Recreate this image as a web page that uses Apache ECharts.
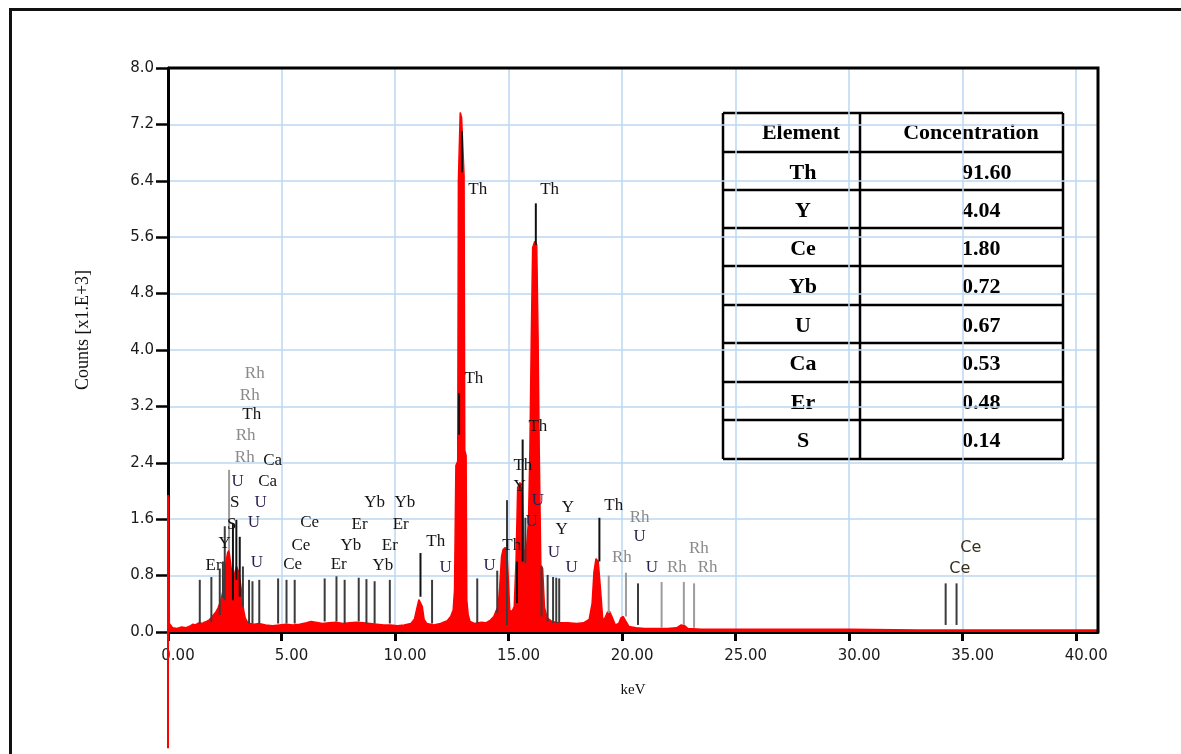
<!DOCTYPE html>
<html><head><meta charset="utf-8">
<script src="https://cdn.jsdelivr.net/npm/echarts@6/dist/echarts.min.js"></script>
<style>html,body{margin:0;padding:0;background:#fff}#c{width:1181px;height:754px}</style>
</head><body><div id="c"></div>
<script>
// ---------- data ----------
const xTickValues = [0, 5, 10, 15, 20, 25, 30, 35, 40];

// spectrum [keV, counts x1000]
const spectrum = [
 [0.00,1.94],[0.03,1.90],[0.06,0.12],[0.2,0.06],[0.4,0.05],[0.6,0.07],[0.8,0.06],[1.0,0.09],
 [1.1,0.11],[1.2,0.10],[1.3,0.12],[1.4,0.13],[1.5,0.12],[1.6,0.14],[1.7,0.15],[1.8,0.17],
 [1.9,0.20],[2.0,0.24],[2.1,0.28],[2.2,0.34],[2.3,0.42],[2.4,0.55],[2.5,0.83],[2.56,1.00],
 [2.62,1.12],[2.68,1.16],[2.74,1.02],[2.80,0.86],[2.88,0.76],[2.95,0.85],[3.02,0.93],[3.10,0.86],
 [3.18,0.72],[3.25,0.55],[3.32,0.33],[3.40,0.20],[3.50,0.14],[3.6,0.12],[3.8,0.11],[4.0,0.12],
 [4.3,0.10],[4.6,0.09],[4.9,0.10],[5.2,0.11],[5.5,0.10],[5.8,0.11],[6.1,0.13],[6.3,0.15],
 [6.5,0.14],[6.8,0.12],[7.1,0.13],[7.4,0.14],[7.7,0.12],[8.0,0.13],[8.3,0.14],[8.6,0.13],
 [8.9,0.12],[9.2,0.11],[9.5,0.10],[9.8,0.10],[10.1,0.09],[10.4,0.10],[10.7,0.12],[10.85,0.18],
 [10.95,0.32],[11.05,0.46],[11.12,0.48],[11.2,0.36],[11.28,0.18],[11.4,0.12],[11.7,0.10],[12.0,0.12],
 [12.3,0.16],[12.45,0.22],[12.56,0.31],[12.62,0.60],[12.68,2.36],[12.76,2.42],[12.79,6.40],[12.87,7.37],
 [12.93,7.30],[13.04,6.47],[13.07,2.58],[13.13,2.50],[13.16,0.45],[13.22,0.25],[13.3,0.15],[13.5,0.12],
 [13.8,0.14],[14.0,0.13],[14.2,0.17],[14.35,0.22],[14.45,0.30],[14.54,0.36],[14.61,0.64],[14.69,1.07],
 [14.76,1.17],[14.85,1.20],[14.93,1.12],[14.99,0.74],[15.05,0.31],[15.15,0.29],[15.25,0.36],[15.33,1.02],
 [15.40,2.05],[15.50,2.12],[15.60,2.00],[15.67,1.20],[15.75,1.00],[15.82,0.98],[15.88,1.60],[15.94,2.60],
 [16.00,4.17],[16.06,5.45],[16.15,5.54],[16.24,5.49],[16.30,4.17],[16.35,2.60],[16.42,0.95],[16.50,0.90],
 [16.58,0.35],[16.70,0.20],[16.9,0.15],[17.2,0.13],[17.6,0.13],[18.0,0.12],[18.3,0.13],[18.55,0.18],
 [18.68,0.41],[18.76,0.85],[18.85,1.04],[18.95,1.00],[19.05,0.60],[19.15,0.17],[19.25,0.20],[19.35,0.28],
 [19.45,0.29],[19.55,0.22],[19.7,0.10],[19.85,0.12],[19.95,0.20],[20.05,0.22],[20.15,0.16],[20.3,0.08],
 [20.6,0.06],[21.0,0.05],[21.5,0.05],[22.0,0.05],[22.4,0.06],[22.6,0.10],[22.75,0.09],[22.9,0.05],
 [23.5,0.04],[25,0.04],[27,0.04],[30,0.04],[33,0.03],[36,0.03],[39,0.03],[40.96,0.03]
];
const zeroSpike = [[0,-1.65],[0,1.94]];

// marker lines [element, keV, bottom, top]
const markerLines = [
 ['Er',1.40,0.12,0.74],['Y',1.91,0.14,0.78],['S',2.28,0.24,0.90],['S',2.42,0.48,1.00],
 ['Y',2.50,0.45,1.50],['Rh',2.69,1.16,2.30],['Th',2.86,0.45,1.54],['Th',3.01,0.74,1.59],
 ['Th',3.16,0.50,1.35],['U',3.30,0.36,0.93],['U',3.57,0.12,0.74],['Ca',3.72,0.12,0.72],
 ['Ca',4.02,0.12,0.74],['Ce',4.85,0.12,0.76],['Ce',5.22,0.12,0.74],['Ce',5.58,0.12,0.74],
 ['Er',6.90,0.15,0.76],['Yb',7.42,0.15,0.79],['Er',7.78,0.12,0.74],['Yb',8.40,0.15,0.77],
 ['Er',8.74,0.12,0.75],['Yb',9.10,0.12,0.72],['Yb',9.77,0.12,0.74],['Th',11.12,0.50,1.12],
 ['U',11.63,0.12,0.74],['Th',12.82,2.80,3.39],['Th',12.95,6.52,7.10],['U',13.62,0.12,0.76],
 ['U',14.50,0.27,0.87],['Y',14.93,0.10,1.87],['Th',15.37,0.41,1.00],['Th',15.62,1.00,2.73],
 ['U',15.74,0.98,1.62],['Th',16.20,5.49,6.08],['U',16.45,0.22,0.93],['Y',16.72,0.15,0.81],
 ['U',16.96,0.13,0.78],['U',17.10,0.13,0.77],['U',17.23,0.13,0.76],['Th',19.00,1.00,1.62],
 ['Rh',19.41,0.27,0.80],['Rh',20.17,0.22,0.84],['U',20.70,0.10,0.69],['Rh',21.74,0.06,0.71],
 ['Rh',22.72,0.10,0.71],['Rh',23.17,0.06,0.69],['Ce',34.25,0.10,0.69],['Ce',34.73,0.10,0.69]
];

// marker labels [text, keV, counts]
const markerLabels = [
 ['Rh',3.82,3.67],['Rh',3.60,3.36],['Th',3.69,3.08],['Rh',3.42,2.79],['Rh',3.38,2.48],
 ['Ca',4.61,2.43],['U',3.07,2.13],['Ca',4.39,2.14],['S',2.94,1.84],['U',4.08,1.84],
 ['S',2.81,1.53],['U',3.78,1.55],['Ce',6.24,1.55],['Er',8.44,1.53],['Yb',9.10,1.84],
 ['Yb',10.43,1.84],['Er',10.25,1.52],['Y',2.50,1.25],['Ce',5.85,1.23],['Yb',8.05,1.23],
 ['Er',9.77,1.23],['Th',11.79,1.29],['Er',2.01,0.94],['U',3.91,0.98],['Ce',5.49,0.95],
 ['Er',7.52,0.95],['Yb',9.46,0.94],['U',12.23,0.92],
 ['Th',13.64,6.27],['Th',16.81,6.27],['Th',13.47,3.59],['Th',16.29,2.92],['Th',15.63,2.36],
 ['Y',15.49,2.07],['U',16.29,1.86],['Y',17.61,1.76],['U',16.02,1.56],['Y',17.34,1.45],
 ['Th',19.63,1.80],['Rh',20.77,1.63],['U',20.77,1.36],['U',17.00,1.13],['Th',15.14,1.23],
 ['U',14.17,0.94],['U',17.78,0.91],['Rh',19.99,1.05],['U',21.31,0.91],['Rh',22.41,0.91],
 ['Rh',23.38,1.18],['Rh',23.77,0.91]
];
const farLabels = [['Ce',35.36,1.19],['Ce',34.87,0.89]];

const tableHeader = ['Element', 'Concentration'];
const tableElements = ['Th','Y','Ce','Yb','U','Ca','Er','S'];
const tableConc = ['91.60','4.04','1.80','0.72','0.67','0.53','0.48','0.14'];

// ---------- styles ----------
const lineColor = el => el === 'Rh' ? '#9c9c9c' : (el === 'Th' ? '#111' : '#3c3c3c');
const labelColor = el => el === 'Rh' ? '#8a8a8a' : (el === 'U' ? '#2b1f4f' : '#141414');

// ---------- table graphic ----------
const T = {l:723, r:1063, mid:860, rows:[113,152,190,228,266,305,343,382,420,459]};
const tg = [];
const lw = 2.5;
T.rows.forEach(y => tg.push({type:'line', shape:{x1:T.l,y1:y,x2:T.r,y2:y}, style:{stroke:'#000',lineWidth:lw}}));
[T.l, T.mid, T.r].forEach(x => tg.push({type:'line', shape:{x1:x,y1:T.rows[0],x2:x,y2:T.rows[T.rows.length-1]}, style:{stroke:'#000',lineWidth:lw}}));
const tFont = 'bold 22px "Liberation Serif", "Times New Roman", serif';
tg.push({type:'text', x:801, y:(T.rows[0]+T.rows[1])/2+1, style:{text:tableHeader[0], font:tFont, fill:'#000', align:'center', verticalAlign:'middle'}});
tg.push({type:'text', x:971, y:(T.rows[0]+T.rows[1])/2+1, style:{text:tableHeader[1], font:tFont, fill:'#000', align:'center', verticalAlign:'middle'}});
tableElements.forEach((e,i) => {
  const cy = (T.rows[i+1]+T.rows[i+2])/2 + 2;
  tg.push({type:'text', x:803, y:cy, style:{text:e, font:tFont, fill:'#000', align:'center', verticalAlign:'middle'}});
  tg.push({type:'text', x:962, y:cy, style:{text:tableConc[i], font:tFont, fill:'#000', align:'left', verticalAlign:'middle'}});
});

const chart = echarts.init(document.getElementById('c'));
const serif = '"Liberation Serif", "Times New Roman", serif';
const axFont = '"DejaVu Sans", Verdana, sans-serif';
chart.setOption({
  animation: false,
  backgroundColor: '#fff',
  grid: {left:168, top:68, width:930, height:564, show:false},
  xAxis: {
    type:'value', min:0, max:40.96, interval:5,
    name:'keV', nameLocation:'middle', nameGap:51,
    nameTextStyle:{fontFamily:serif, fontSize:15, color:'#111'},
    axisLine:{show:true, lineStyle:{color:'#000', width:3}},
    axisTick:{show:true, length:9, lineStyle:{color:'#000', width:3}, customValues:xTickValues},
    axisLabel:{customValues:xTickValues, formatter:v => v.toFixed(2), fontFamily:axFont, fontSize:15, color:'#1a1a1a', margin:17, padding:[0,0,0,20]},
    splitLine:{show:true, lineStyle:{color:'#bdd7f1', width:1.5}}
  },
  yAxis: {
    type:'value', min:0, max:8, interval:0.8,
    axisLine:{show:true, lineStyle:{color:'#000', width:3}},
    axisTick:{show:true, length:12, lineStyle:{color:'#000', width:2.5}},
    axisLabel:{formatter:v => v.toFixed(1), fontFamily:axFont, fontSize:15, color:'#1a1a1a', margin:14},
    splitLine:{show:true, lineStyle:{color:'#bdd7f1', width:1.5}}
  },
  graphic: [
    {type:'polyline', shape:{points:[[10.5,754],[10.5,9.5],[1181,9.5]]}, style:{stroke:'#111', lineWidth:3, fill:null}},
    {type:'polyline', z:100, shape:{points:[[168,68],[1098,68],[1098,632]]}, style:{stroke:'#000', lineWidth:3, fill:null}},
    {type:'text', x:83, y:330, rotation:Math.PI/2, style:{text:'Counts [x1.E+3]', font:'18px '+serif, fill:'#111', align:'center', verticalAlign:'middle'}},
    {type:'group', children:tg}
  ],
  series: [
    {type:'line', data:spectrum, showSymbol:false, symbol:'none', z:2,
     lineStyle:{color:'#ff0000', width:1.5}, areaStyle:{color:'#ff0000', opacity:1}},
    {type:'line', data:zeroSpike, showSymbol:false, symbol:'none', clip:false, z:2,
     lineStyle:{color:'#ff0000', width:2}},
    {type:'custom', z:3, silent:true, data:markerLines.map(m => [m[1], m[2], m[3]]),
     encode:{x:0, y:[1,2]},
     renderItem:(params, api) => {
       const x = api.value(0);
       const p0 = api.coord([x, api.value(1)]), p1 = api.coord([x, api.value(2)]);
       return {type:'line', shape:{x1:p0[0], y1:p0[1], x2:p1[0], y2:p1[1]},
               style:{stroke:lineColor(markerLines[params.dataIndex][0]), lineWidth:2}};
     }},
    {type:'custom', z:4, silent:true, data:markerLabels.map(m => [m[1], m[2]]),
     encode:{x:0, y:1},
     renderItem:(params, api) => {
       const p = api.coord([api.value(0), api.value(1)]);
       const t = markerLabels[params.dataIndex][0];
       return {type:'text', x:p[0], y:p[1],
               style:{text:t, fill:labelColor(t), font:'17px '+serif, align:'center', verticalAlign:'middle'}};
     }},
    {type:'custom', z:4, silent:true, data:farLabels.map(m => [m[1], m[2]]),
     encode:{x:0, y:1},
     renderItem:(params, api) => {
       const p = api.coord([api.value(0), api.value(1)]);
       return {type:'text', x:p[0], y:p[1],
               style:{text:farLabels[params.dataIndex][0], fill:'#3a3020', font:'16px "DejaVu Sans", Tahoma, sans-serif', align:'center', verticalAlign:'middle'}};
     }}
  ]
});
</script></body></html>
